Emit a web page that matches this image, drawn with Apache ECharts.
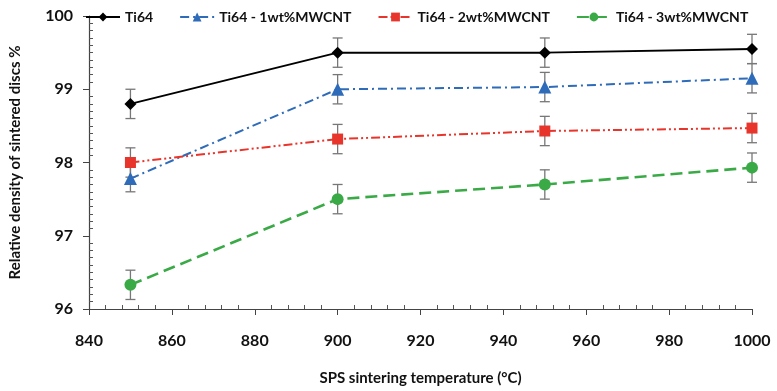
<!DOCTYPE html>
<html><head><meta charset="utf-8">
<script src="https://cdn.jsdelivr.net/npm/echarts@6/dist/echarts.min.js"></script>
<style>html,body{margin:0;padding:0;background:#fff}#c{width:777px;height:391px}</style>
</head><body><div id="c"></div>
<script>
var temps = [850, 900, 950, 1000];
var seriesNames = ['Ti64', 'Ti64 - 1wt%MWCNT', 'Ti64 - 2wt%MWCNT', 'Ti64 - 3wt%MWCNT'];
var ti64 = [98.8, 99.5, 99.5, 99.55];
var ti64_1 = [97.78, 99.0, 99.03, 99.15];
var ti64_2 = [98.0, 98.32, 98.43, 98.47];
var ti64_3 = [96.33, 97.5, 97.7, 97.93];
var err0 = [0.2, 0.2, 0.2, 0.2];
var err1 = [0.18, 0.2, 0.2, 0.2];
var err2 = [0.2, 0.2, 0.2, 0.2];
var err3 = [0.2, 0.2, 0.2, 0.2];
var xTicks = [840, 860, 880, 900, 920, 940, 960, 980, 1000];
var yTicks = [96, 97, 98, 99, 100];

var values = [ti64, ti64_1, ti64_2, ti64_3];
var errs = [err0, err1, err2, err3];
var colors = ['#000000', '#2e6bb8', '#e8352b', '#3aaa47'];
var symbols = ['diamond', 'triangle', 'rect', 'circle'];
var symSizes = [12, 13, 11, 12];
var dashes = ['solid', [9, 4, 2, 4], [9, 3, 2, 3, 2, 3], [12, 6]];
var widths = [2, 2, 2, 2.6];
var font = 'Lato, "Liberation Sans", sans-serif';

var series = [];
values.forEach(function (v, i) {
  var ebData = temps.map(function (t, k) { return [t, v[k] - errs[i][k], v[k] + errs[i][k]]; });
  series.push({
    type: 'custom', z: 1, silent: true,
    data: ebData,
    encode: { x: 0, y: [1, 2] },
    renderItem: function (params, api) {
      var x = api.value(0);
      var lo = api.coord([x, api.value(1)]);
      var hi = api.coord([x, api.value(2)]);
      var w = 5;
      var st = { stroke: '#777', lineWidth: 1.3 };
      return { type: 'group', children: [
        { type: 'line', shape: { x1: lo[0], y1: lo[1], x2: hi[0], y2: hi[1] }, style: st },
        { type: 'line', shape: { x1: lo[0] - w, y1: lo[1], x2: lo[0] + w, y2: lo[1] }, style: st },
        { type: 'line', shape: { x1: hi[0] - w, y1: hi[1], x2: hi[0] + w, y2: hi[1] }, style: st }
      ]};
    }
  });
  series.push({
    name: seriesNames[i], type: 'line', z: 3,
    data: temps.map(function (t, k) { return [t, v[k]]; }),
    symbol: symbols[i], symbolSize: symSizes[i], showSymbol: true,
    itemStyle: { color: colors[i] },
    lineStyle: { color: colors[i], width: widths[i], type: dashes[i] }
  });
});

var chart = echarts.init(document.getElementById('c'));
chart.setOption({
  animation: false,
  backgroundColor: '#fff',
  legend: {
    top: 5, left: 80, itemGap: 26, itemWidth: 34, itemHeight: 11,
    data: seriesNames,
    textStyle: { fontFamily: font, fontWeight: 'bold', fontSize: 14, color: '#111' }
  },
  grid: { left: 86, right: 25, top: 16, bottom: 77 },
  xAxis: {
    type: 'value', min: 840, max: 1000, interval: 20,
    name: 'SPS sintering temperature (°C)', nameLocation: 'middle', nameGap: 62,
    nameTextStyle: { fontFamily: font, fontWeight: 'bold', fontSize: 15, color: '#111' },
    axisLine: { lineStyle: { color: '#444', width: 1.2 } },
    axisTick: { length: 6, lineStyle: { color: '#444' } },
    minorTick: { show: true, splitNumber: 5, length: -4, lineStyle: { color: '#555' } },
    splitLine: { show: false },
    axisLabel: { margin: 24, fontFamily: font, fontWeight: 'bold', fontSize: 16, color: '#111',
      formatter: function (v) { return String(v); } }
  },
  yAxis: {
    type: 'value', min: 96, max: 100, interval: 1,
    name: 'Relative density of sintered discs %', nameLocation: 'middle', nameGap: 66,
    nameTextStyle: { fontFamily: font, fontWeight: 'bold', fontSize: 15, color: '#111' },
    axisLine: { show: true, lineStyle: { color: '#444', width: 1.2 } },
    axisTick: { show: true, length: 6, lineStyle: { color: '#444' } },
    minorTick: { show: true, splitNumber: 10, length: -4, lineStyle: { color: '#555' } },
    splitLine: { show: false },
    axisLabel: { margin: 16, fontFamily: font, fontWeight: 'bold', fontSize: 16, color: '#111',
      formatter: function (v) { return String(v); } }
  },
  series: series
});
</script></body></html>
